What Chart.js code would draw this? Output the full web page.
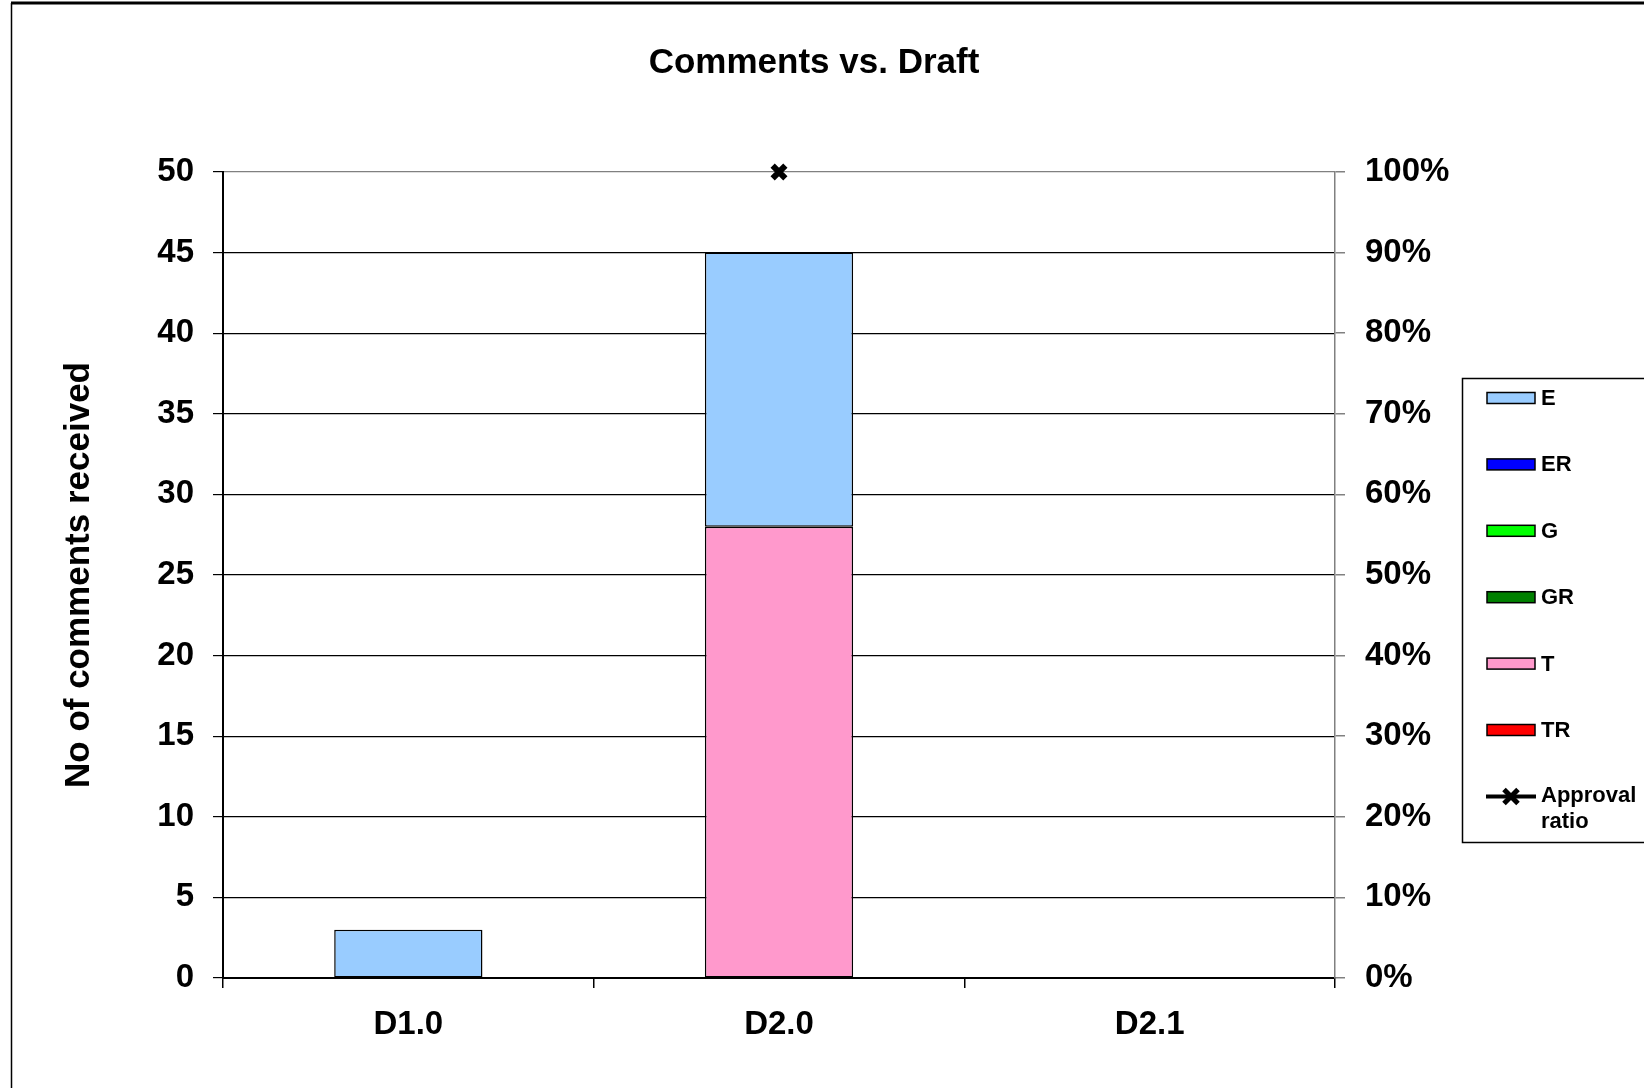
<!DOCTYPE html>
<html>
<head>
<meta charset="utf-8">
<script src="https://cdn.jsdelivr.net/npm/chart.js@4"></script>
<style>
  html, body { margin: 0; padding: 0; background: #fff; overflow: hidden; }
  #wrap { width: 1644px; height: 1088px; }
</style>
</head>
<body>
<div id="wrap"><canvas id="chart" width="1644" height="1088"></canvas></div>
<script>
// Datos
const drafts = ['D1.0', 'D2.0', 'D2.1'];
const E  = [3, 17, null];
const ER = [null, null, null];
const G  = [null, null, null];
const GR = [null, null, null];
const T  = [null, 28, null];
const TR = [null, null, null];
const approvalRatio = [null, 1.0, null];
const legendOrder = ['E', 'ER', 'G', 'GR', 'T', 'TR', 'Approval ratio'];

const FONT = '"Liberation Sans", Arial, sans-serif';
Chart.defaults.font.family = FONT;
Chart.defaults.color = '#000';

function barSet(label, data, color) {
  return { type: 'bar', label: label, data: data, backgroundColor: color,
    borderColor: '#000', borderWidth: 1.5, borderSkipped: false,
    categoryPercentage: 1, barPercentage: 0.4, yAxisID: 'y', order: 1 };
}

// marco exterior y leyenda propia
const frameLegend = {
  id: 'frameLegend',
  afterDraw(chart) {
    const c = chart.ctx;
    c.save();
    c.strokeStyle = '#000';
    c.lineWidth = 3;
    c.beginPath(); c.moveTo(11, 3); c.lineTo(1700, 3); c.stroke();
    c.lineWidth = 1.5;
    c.beginPath(); c.moveTo(11.5, 3); c.lineTo(11.5, 1100); c.stroke();

    // caja de leyenda
    c.lineWidth = 1.5;
    c.strokeRect(1462.5, 378.5, 300, 464);
    c.font = 'bold 22px ' + FONT;
    c.textBaseline = 'middle';
    c.textAlign = 'left';
    legendOrder.forEach((name, i) => {
      const ds = chart.data.datasets.find(d => d.label === name);
      const y = 398 + i * 66.4;
      if (ds.type === 'bar') {
        c.fillStyle = ds.backgroundColor;
        c.fillRect(1487, y - 5.5, 48, 11);
        c.lineWidth = 1.5;
        c.strokeStyle = '#000';
        c.strokeRect(1487, y - 5.5, 48, 11);
        c.fillStyle = '#000';
        c.fillText(name, 1541, y + 1);
      } else {
        c.strokeStyle = '#000';
        c.lineWidth = 4;
        c.beginPath(); c.moveTo(1486, y); c.lineTo(1536, y); c.stroke();
        c.lineWidth = 5;
        c.beginPath();
        c.moveTo(1504, y - 7); c.lineTo(1518, y + 7);
        c.moveTo(1518, y - 7); c.lineTo(1504, y + 7);
        c.stroke();
        c.fillStyle = '#000';
        c.fillText('Approval', 1541, y);
        c.fillText('ratio', 1541, y + 26);
      }
    });
    c.restore();
  }
};

new Chart(document.getElementById('chart'), {
  data: {
    labels: drafts,
    datasets: [
      barSet('T', T, '#FF99CC'),
      barSet('E', E, '#99CCFF'),
      barSet('ER', ER, '#0000FF'),
      barSet('G', G, '#00FF00'),
      barSet('GR', GR, '#008000'),
      barSet('TR', TR, '#FF0000'),
      { type: 'line', label: 'Approval ratio', data: approvalRatio, yAxisID: 'y2',
        borderColor: '#000', borderWidth: 4, backgroundColor: '#000',
        pointStyle: 'crossRot', pointRadius: 9, pointBorderWidth: 6,
        pointBorderColor: '#000', spanGaps: false, clip: false, order: 0 }
    ]
  },
  options: {
    responsive: false,
    animation: false,
    layout: { padding: { left: 0, right: 16, top: 0, bottom: 0 } },
    plugins: {
      legend: { display: false },
      tooltip: { enabled: false },
      title: {
        display: true, text: 'Comments vs. Draft', color: '#000',
        font: { size: 35, weight: 'bold' },
        padding: { top: 42, bottom: 88 }
      }
    },
    scales: {
      x: {
        stacked: true,
        afterFit: s => { s.height = 110; },
        border: { color: '#000', width: 2 },
        grid: { offset: true, drawOnChartArea: false, color: '#000', tickLength: 10, lineWidth: 1.5 },
        ticks: { color: '#000', font: { size: 33, weight: 'bold' }, padding: 17 }
      },
      y: {
        stacked: true, min: 0, max: 50,
        position: 'left',
        afterFit: s => { s.width = 223; },
        border: { color: '#000', width: 2 },
        grid: {
          color: ctx => (ctx.tick && ctx.tick.value === 50) ? '#808080' : '#000',
          tickColor: '#000', lineWidth: 1.2, tickLength: 10
        },
        ticks: { stepSize: 5, color: '#000', font: { size: 33, weight: 'bold' }, padding: 19 },
        title: {
          display: true, text: 'No of comments received', color: '#000',
          font: { size: 35, weight: 'bold' }, padding: { top: 58, bottom: 0 }
        }
      },
      y2: {
        min: 0, max: 1,
        position: 'right',
        afterFit: s => { s.width = 293; },
        border: { color: '#808080', width: 1.5 },
        grid: { drawOnChartArea: false, color: '#808080', tickLength: 10, lineWidth: 1.5 },
        ticks: {
          stepSize: 0.1, color: '#000', font: { size: 33, weight: 'bold' }, padding: 20,
          callback: v => Math.round(v * 100) + '%'
        }
      }
    }
  },
  plugins: [frameLegend]
});
</script>
</body>
</html>
